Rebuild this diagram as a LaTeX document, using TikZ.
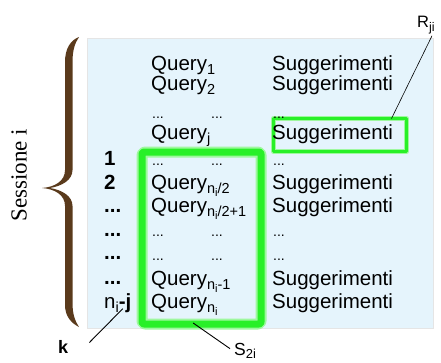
\documentclass[tikz,border=0pt]{standalone}
\usepackage{fontspec}
\setmainfont{Liberation Sans}
\newfontfamily\serifface{Liberation Serif}
\usetikzlibrary{calc}

\definecolor{panelblue}{RGB}{229,244,252}
\definecolor{hlgreen}{RGB}{40,240,40}
\definecolor{bracebrown}{RGB}{90,58,28}

% lowered indices, one and two levels deep
\newcommand\lo[1]{\raisebox{-4.5pt}{\fontsize{14.5}{16}\selectfont #1}}
\newcommand\llo[1]{\raisebox{-3pt}{\fontsize{11}{12}\selectfont #1}}

\tikzset{
  txt/.style={anchor=base west, inner sep=0pt, font=\fontsize{20.5}{24}\selectfont},
  num/.style={txt, font=\fontsize{20.5}{24}\selectfont\bfseries},
  gap/.style={anchor=base west, inner sep=0pt, font=\fontsize{14}{16}\selectfont},
  glowline/.style={draw=hlgreen!45, line cap=round, line join=round},
  hlline/.style={draw=hlgreen, line cap=round, line join=round},
  pointer/.style={draw=black, line width=0.9pt},
}

\begin{document}
\begin{tikzpicture}[x=1pt, y=-1pt]
\useasboundingbox (0,0) rectangle (441,362);

% background panel of the session
\node[fill=panelblue, draw=gray!20, line width=0.6pt, inner sep=0pt, outer sep=0pt,
      minimum width=346, minimum height=290, anchor=north west] (panel) at (87,38) {};

% curly brace
\fill[bracebrown]
  (79,37) .. controls (71,40) and (65,48) .. (65,62)
  -- (65,170)
  .. controls (65,181) and (55,187) .. (42,188)
  .. controls (55,189) and (65,195) .. (65,206)
  -- (65,305)
  .. controls (65,316) and (71,323) .. (79,327)
  .. controls (75,321) and (72.5,314) .. (72.5,303)
  -- (72.5,206)
  .. controls (72.5,196) and (62,190) .. (50,188)
  .. controls (62,186) and (72.5,180) .. (72.5,170)
  -- (72.5,62)
  .. controls (72.5,50) and (75,43) .. (79,37) -- cycle;

\node[rotate=90, inner sep=0pt, font=\serifface\fontsize{23}{26}\selectfont] (sess) at (19,175) {Sessione i};

% highlighted groups
\draw[glowline, line width=11pt, rounded corners=3pt] (142,152) rectangle (261,324);
\draw[hlline, line width=7pt, rounded corners=2pt] (142,152) rectangle (261,324);
\node[inner sep=0pt, outer sep=0pt, minimum width=119, minimum height=172, anchor=north west] (sbox) at (142,152) {};

\draw[glowline, line width=5pt] (273.5,118.5) rectangle (406.5,151.5);
\draw[hlline, line width=3pt] (273.5,118.5) rectangle (406.5,151.5);
\node[inner sep=0pt, outer sep=0pt, minimum width=133, minimum height=33, anchor=north west] (rbox) at (273.5,118.5) {};

% index column
\node[num] (i1) at (104,165) {1};
\node[num] (i2) at (104,189) {2};
\node[num] (i3) at (104,212) {...};
\node[num] (i4) at (104,236) {...};
\node[num] (i5) at (104,259) {...};
\node[num] (i6) at (104,284) {...};
\node[txt] (nij) at (104,308) {n\lo{i}\textbf{-j}};

% query column
\node[txt] (q1) at (151,70) {Query\lo{1}};
\node[txt] (q2) at (151,90) {Query\lo{2}};
\node[gap] (qd1) at (152,118) {...};
\node[gap] (qe1) at (211,118) {...};
\node[txt] (qj) at (151,139) {Query\lo{j}};
\node[gap] (qd2) at (152,165) {...};
\node[gap] (qe2) at (211,165) {...};
\node[txt] (qh) at (151,189) {Query\lo{n\llo{i}/2}};
\node[txt] (qh1) at (151,212) {Query\lo{n\llo{i}/2+1}};
\node[gap] (qd3) at (152,236) {...};
\node[gap] (qe3) at (211,236) {...};
\node[gap] (qd4) at (152,260) {...};
\node[gap] (qe4) at (211,260) {...};
\node[txt] (qm) at (151,285) {Query\lo{n\llo{i}-1}};
\node[txt] (qn) at (151,308) {Query\lo{n\llo{i}}};

% suggestion column
\node[txt] (s1) at (272,70) {Suggerimenti};
\node[txt] (s2) at (272,90) {Suggerimenti};
\node[gap] (sd1) at (273,118) {...};
\node[txt] (sj) at (272,139) {Suggerimenti};
\node[gap] (sd2) at (273,165) {...};
\node[txt] (sh) at (272,189) {Suggerimenti};
\node[txt] (sh1) at (272,212) {Suggerimenti};
\node[gap] (sd3) at (273,236) {...};
\node[gap] (sd4) at (273,260) {...};
\node[txt] (sm) at (272,285) {Suggerimenti};
\node[txt] (sn) at (272,308) {Suggerimenti};

% outside labels
\node[anchor=base west, inner sep=0pt, font=\fontsize{16.5}{18}\selectfont] (rji) at (417,27)
  {R\raisebox{-4pt}{\fontsize{12.5}{14}\selectfont ji}};
\node[anchor=base west, inner sep=0pt, font=\fontsize{18}{20}\selectfont\bfseries] (k) at (58,353) {k};
\node[anchor=base west, inner sep=0pt, font=\fontsize{17.5}{20}\selectfont] (s2i) at (234,355)
  {S\raisebox{-3.5pt}{\fontsize{13}{14}\selectfont 2i}};

% pointer lines
\coordinate (rtip) at ($(rbox.north east)+(-15,0)$);
\coordinate (rfoot) at ($(rji.south west)+(15,2)$);
\draw[pointer, line width=0.6pt] (rfoot) -- (rtip);

\coordinate (kfoot) at ($(k.east)+(21,-4)$);
\coordinate (ktip) at ($(nij.south)+(5,-4)$);
\draw[pointer] (kfoot) -- (ktip);

\coordinate (stip) at ($(sbox.south west)!0.43!(sbox.south east)+(0,-1)$);
\coordinate (sfoot) at ($(s2i.west)+(-4,-2)$);
\draw[pointer] (stip) -- (sfoot);
\end{tikzpicture}
\end{document}
